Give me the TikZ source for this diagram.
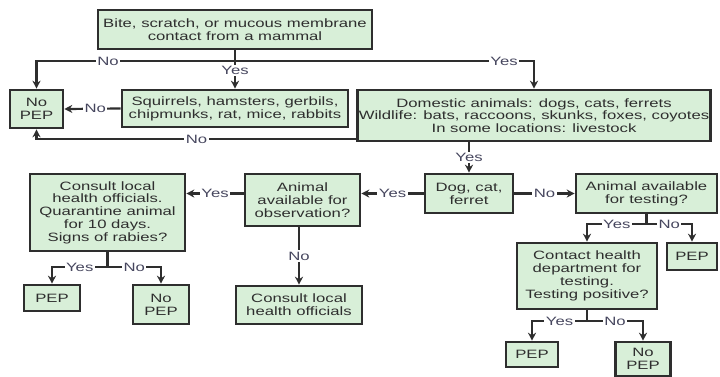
\documentclass[tikz,border=0pt]{standalone}
\usepackage{fontspec}
\setmainfont{Liberation Sans}[FakeStretch=1.38]
\usetikzlibrary{arrows.meta}
\definecolor{boxfill}{HTML}{D8EFD8}
\definecolor{boxline}{HTML}{2E2E2E}
\definecolor{lbltext}{HTML}{46465E}

\begin{document}
\begin{tikzpicture}[x=1pt, y=-1pt,
	box/.style={draw=boxline, line width=2.6pt, fill=boxfill, text=boxline, align=center,
		inner sep=1pt, font=\fontsize{12.1}{12.8}\selectfont},
	line/.style={draw=boxline, line width=2.2pt},
	arr/.style={line, -{Stealth[length=8pt,width=8pt]}},
	lbl/.style={fill=white, text=lbltext, inner sep=1.5pt, font=\fontsize{12.1}{12.8}\selectfont}]
	\useasboundingbox (0,0) rectangle (720,376);

	\node[box, minimum width=274, minimum height=39] (bite) at (235,29.5) {Bite, scratch, or mucous membrane\\contact from a mammal};
	\node[box, minimum width=53, minimum height=38] (nopepA) at (36.5,109) {No\\PEP};
	\node[box, minimum width=226, minimum height=37] (squirrels) at (235,108.5) {Squirrels, hamsters, gerbils,\\chipmunks, rat, mice, rabbits};
	\node[box, minimum width=350, minimum height=51] (domestic) at (534,115.5) {Domestic animals: dogs, cats, ferrets\\Wildlife: bats, raccoons, skunks, foxes, coyotes\\In some locations: livestock};
	\node[box, minimum width=88, minimum height=39] (dog) at (469,193.5) {Dog, cat,\\ferret};
	\node[box, minimum width=141, minimum height=39] (testing) at (646.5,193.5) {Animal available\\for testing?};
	\node[box, minimum width=115, minimum height=52] (obs) at (302.5,200) {Animal\\available for\\observation?};
	\node[box, minimum width=155, minimum height=77] (quar) at (107.5,212.5) {Consult local\\health officials.\\Quarantine animal\\for 10 days.\\Signs of rabies?};
	\node[box, minimum width=126, minimum height=38] (consult) at (299,305) {Consult local\\health officials};
	\node[box, minimum width=56, minimum height=26] (pepB) at (52,298) {PEP};
	\node[box, minimum width=56, minimum height=39] (nopepB) at (161,304.5) {No\\PEP};
	\node[box, minimum width=140, minimum height=66] (contact) at (587,276) {Contact health\\department for\\testing.\\Testing positive?};
	\node[box, minimum width=50, minimum height=27] (pepC) at (692,256.5) {PEP};
	\node[box, minimum width=52, minimum height=25] (pepD) at (532,354.5) {PEP};
	\node[box, minimum width=55, minimum height=34] (nopepD) at (643,359) {No\\PEP};

	% split points
	\coordinate (splitA) at (235,61);
	\coordinate (splitB) at (107.5,267);
	\coordinate (splitC) at (646.5,224);
	\coordinate (splitD) at (587,321);

	\draw[line] (bite.south) -- (splitA);
	\draw[arr] (splitA) -| node[lbl, pos=0.32] {No} (nopepA.north);
	\draw[arr] (splitA) -- node[lbl, pos=0.35] {Yes} (squirrels.north);
	\draw[arr] (splitA) -| node[lbl, pos=0.45] {Yes} (domestic.north);
	\draw[arr] (squirrels.west) -- node[lbl, pos=0.45] {No} (nopepA.east);
	\draw[arr] ([yshift=3pt]domestic.south west) -| node[lbl, pos=0.25] {No} (nopepA.south);
	\draw[arr] (dog.north |- domestic.south) -- node[lbl] {Yes} (dog.north);

	\draw[arr] (dog.west) -- node[lbl] {Yes} (dog.west -| obs.east);
	\draw[arr] (dog.east) -- node[lbl] {No} (testing.west);
	\draw[arr] (obs.west |- dog.west) -- node[lbl] {Yes} (quar.east |- dog.west);
	\draw[arr] (consult.north |- obs.south) -- node[lbl] {No} (consult.north);

	\draw[line] (quar.south) -- (splitB);
	\draw[arr] (splitB) -| node[lbl, pos=0.25] {Yes} (pepB.north);
	\draw[arr] (splitB) -| node[lbl, pos=0.25] {No} (nopepB.north);

	\draw[line] (testing.south) -- (splitC);
	\draw[arr] (splitC) -| node[lbl, pos=0.25] {Yes} (contact.north);
	\draw[arr] (splitC) -| node[lbl, pos=0.25] {No} (pepC.north);

	\draw[line] (contact.south) -- (splitD);
	\draw[arr] (splitD) -| node[lbl, pos=0.25] {Yes} (pepD.north);
	\draw[arr] (splitD) -| node[lbl, pos=0.25] {No} (nopepD.north);
\end{tikzpicture}
\end{document}
